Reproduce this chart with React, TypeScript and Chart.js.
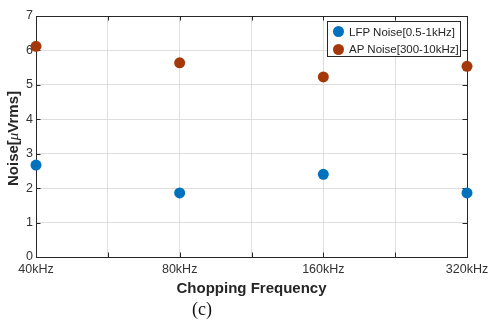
import React, { useEffect, useRef } from "react";
import { Chart, registerables } from "chart.js";

Chart.register(...registerables);

// Chopping frequencies (evenly spaced, log2 steps)
const frequencyLabels = ["40kHz", "80kHz", "160kHz", "320kHz"];
// Measured noise in µVrms
const lfpNoise = [2.67, 1.86, 2.4, 1.86];
const apNoise = [6.12, 5.64, 5.23, 5.54];

const seriesNames = ["LFP Noise[0.5-1kHz]", "AP Noise[300-10kHz]"];
const seriesColors = ["#0072BD", "#A5380A"];

const Y_MIN = 0;
const Y_MAX = 7;

const SANS = '"Liberation Sans", Arial, Helvetica, sans-serif';
const SERIF = '"Liberation Serif", "Times New Roman", serif';
const AXIS_COLOR = "#262626";

// Box frame with inward tick marks on all four sides (drawn under the markers)
const framePlugin = {
  id: "frameTicks",
  beforeDatasetsDraw(chart: any) {
    const { ctx, chartArea, scales } = chart;
    const { left, right, top, bottom } = chartArea;
    const tickLen = 4.5;
    ctx.save();
    ctx.strokeStyle = AXIS_COLOR;
    ctx.lineWidth = 1;
    ctx.beginPath();
    for (const t of scales.x.ticks) {
      const px = Math.round(scales.x.getPixelForValue(t.value)) + 0.5;
      ctx.moveTo(px, bottom);
      ctx.lineTo(px, bottom - tickLen);
      ctx.moveTo(px, top);
      ctx.lineTo(px, top + tickLen);
    }
    for (const t of scales.y.ticks) {
      const py = Math.round(scales.y.getPixelForValue(t.value)) + 0.5;
      ctx.moveTo(left, py);
      ctx.lineTo(left + tickLen, py);
      ctx.moveTo(right, py);
      ctx.lineTo(right - tickLen, py);
    }
    ctx.stroke();
    ctx.strokeRect(
      Math.round(left) + 0.5,
      Math.round(top) + 0.5,
      Math.round(right - left),
      Math.round(bottom - top)
    );
    ctx.restore();
  },
};

// Rotated y-axis title with an italic serif mu
const yTitlePlugin = {
  id: "yTitle",
  afterDraw(chart: any) {
    const { ctx, chartArea } = chart;
    const parts = [
      { text: "Noise[", font: `bold 15px ${SANS}` },
      { text: "\u03BC", font: `italic 15px ${SERIF}` },
      { text: "Vrms]", font: `bold 15px ${SANS}` },
    ];
    ctx.save();
    let total = 0;
    const widths = parts.map((p) => {
      ctx.font = p.font;
      const w = ctx.measureText(p.text).width;
      total += w;
      return w;
    });
    const cy = (chartArea.top + chartArea.bottom) / 2 + 2;
    ctx.translate(14, cy);
    ctx.rotate(-Math.PI / 2);
    ctx.fillStyle = AXIS_COLOR;
    ctx.textBaseline = "middle";
    ctx.textAlign = "left";
    let x = -total / 2;
    parts.forEach((p, i) => {
      ctx.font = p.font;
      ctx.fillText(p.text, x, 0);
      x += widths[i];
    });
    ctx.restore();
  },
};

export default function App() {
  const canvasRef = useRef<HTMLCanvasElement | null>(null);

  useEffect(() => {
    if (!canvasRef.current) return;
    const toPoints = (vals: number[]) => vals.map((y, i) => ({ x: i, y }));
    const chart = new Chart(canvasRef.current, {
      type: "scatter",
      data: {
        datasets: [
          {
            label: seriesNames[0],
            data: toPoints(lfpNoise),
            backgroundColor: seriesColors[0],
            borderWidth: 0,
            pointRadius: 5.5,
            clip: false,
          },
          {
            label: seriesNames[1],
            data: toPoints(apNoise),
            backgroundColor: seriesColors[1],
            borderWidth: 0,
            pointRadius: 5.5,
            clip: false,
          },
        ],
      },
      options: {
        responsive: false,
        animation: false,
        devicePixelRatio: 1,
        layout: { padding: { top: 16, right: 23, left: 0, bottom: 0 } },
        plugins: {
          legend: { display: false },
          tooltip: { enabled: false },
        },
        scales: {
          x: {
            type: "linear",
            min: 0,
            max: frequencyLabels.length - 1,
            afterFit: (s: any) => {
              s.height = 63;
              s.paddingLeft = 0;
              s.paddingRight = 0;
            },
            ticks: {
              stepSize: 0.5,
              autoSkip: false,
              maxRotation: 0,
              padding: 5,
              color: "#333",
              font: { family: SANS, size: 12.5 },
              callback: (v: any) =>
                Number.isInteger(v) ? frequencyLabels[v] : "",
            },
            grid: { color: "#dedede", lineWidth: 1, drawTicks: false },
            border: { display: false },
            title: {
              display: true,
              text: "Chopping Frequency",
              color: AXIS_COLOR,
              font: { family: SANS, size: 15, weight: "bold" },
              padding: { top: 0, bottom: 22 },
            },
          },
          y: {
            min: Y_MIN,
            max: Y_MAX,
            afterFit: (s: any) => {
              s.width = 36;
              s.paddingTop = 0;
              s.paddingBottom = 0;
            },
            ticks: {
              stepSize: 1,
              padding: 3,
              color: "#333",
              font: { family: SANS, size: 12.5 },
            },
            grid: { color: "#dedede", lineWidth: 1, drawTicks: false },
            border: { display: false },
          },
        },
      },
      plugins: [framePlugin, yTitlePlugin],
    } as any);
    return () => chart.destroy();
  }, []);

  const legendRows = seriesNames.map((name, i) => (
    <div
      key={name}
      style={{
        position: "absolute",
        left: 5,
        top: 1 + i * 17.5,
        height: 17,
        display: "flex",
        alignItems: "center",
        whiteSpace: "nowrap",
      }}
    >
      <span
        style={{
          display: "inline-block",
          width: 11,
          height: 11,
          borderRadius: "50%",
          background: seriesColors[i],
          marginRight: 5,
        }}
      />
      <span style={{ fontFamily: SANS, fontSize: 11.5, color: AXIS_COLOR }}>
        {name}
      </span>
    </div>
  ));

  return (
    <div
      style={{
        position: "absolute",
        left: 0,
        top: 0,
        width: 490,
        height: 320,
        background: "#fff",
      }}
    >
      <canvas ref={canvasRef} width={490} height={320} />
      <div
        style={{
          position: "absolute",
          left: 327,
          top: 21,
          width: 132,
          height: 34,
          border: `1px solid ${AXIS_COLOR}`,
          background: "#fff",
        }}
      >
        {legendRows}
      </div>
      <div
        style={{
          position: "absolute",
          left: 202,
          top: 309,
          transform: "translate(-50%, -50%)",
          fontFamily: SERIF,
          fontSize: 18,
          color: "#111",
          lineHeight: 1,
        }}
      >
        (c)
      </div>
    </div>
  );
}
